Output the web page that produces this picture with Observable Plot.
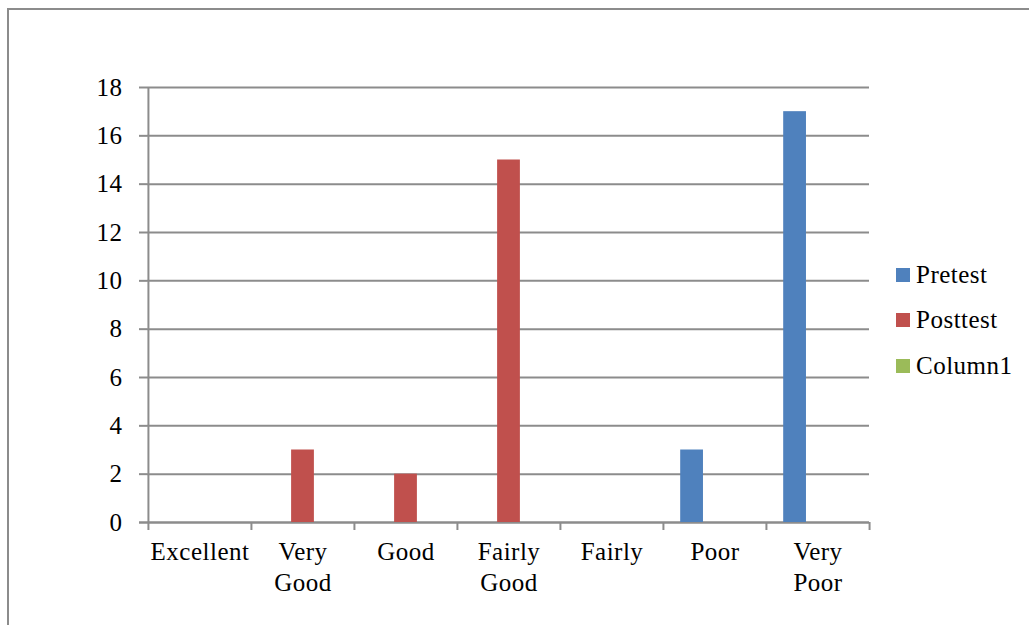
<!DOCTYPE html>
<html>
<head>
<meta charset="utf-8">
<script src="https://cdn.jsdelivr.net/npm/d3@7"></script>
<script src="https://cdn.jsdelivr.net/npm/@observablehq/plot@0.6"></script>
<style>
  html, body { margin: 0; padding: 0; background: #fff; }
  #wrap { position: relative; width: 1029px; height: 625px; overflow: hidden; font-family: "Liberation Serif", "Times New Roman", serif; }
  #border { position: absolute; left: 7px; top: 8px; width: 1100px; height: 700px; border-top: 2px solid #8c8c8c; border-left: 2px solid #8c8c8c; }
  #chart { position: absolute; left: 0; top: 0; }
  #legend { position: absolute; left: 896px; top: 252px; font-size: 25px; letter-spacing: 0.5px; color: #000; }
  .item { display: flex; align-items: center; height: 45.5px; }
  .sw { width: 14px; height: 14px; margin-right: 6px; }
</style>
</head>
<body>
<div id="wrap">
  <div id="border"></div>
  <div id="chart"></div>
  <div id="legend"></div>
</div>
<script>
const categories = ["Excellent", "Very Good", "Good", "Fairly Good", "Fairly", "Poor", "Very Poor"];
const categoryLabels = ["Excellent", "Very\nGood", "Good", "Fairly\nGood", "Fairly", "Poor", "Very\nPoor"];
const seriesNames = ["Pretest", "Posttest", "Column1"];
const seriesColors = ["#4F81BD", "#C0504D", "#9BBB59"];
const pretest = [0, 0, 0, 0, 0, 3, 17];
const posttest = [0, 3, 2, 15, 0, 0, 0];
const column1 = [0, 0, 0, 0, 0, 0, 0];
const yTicks = [0, 2, 4, 6, 8, 10, 12, 14, 16, 18];

const seriesValues = [pretest, posttest, column1];
const data = seriesNames.flatMap((s, j) =>
  categories.map((c, i) => ({category: c, series: s, value: seriesValues[j][i]}))
);

const W = 1029, H = 625;
const mL = 147, mR = 160, mT = 87, mB = 103;
const step = (W - mL - mR) / categories.length;
const bw = step / 4.5;           // Excel gap width 150%
const inset = (step - bw) / 2;
const font = "Liberation Serif";
const fs = 25;
const gridColor = "#8c8c8c";

const barMarks = seriesNames.map((s, j) =>
  Plot.barY(data.filter(d => d.series === s), {
    x: "category", y: "value", fill: seriesColors[j],
    insetLeft: inset, insetRight: inset, dx: (j - 1) * bw
  })
);

const plot = Plot.plot({
  width: W, height: H,
  marginLeft: mL, marginRight: mR, marginTop: mT, marginBottom: mB,
  style: {fontFamily: font, background: "transparent", letterSpacing: "0.5px"},
  x: {type: "band", domain: categories, padding: 0},
  y: {domain: [0, 18]},
  marks: [
    Plot.gridY(yTicks, {stroke: gridColor, strokeOpacity: 1, strokeWidth: 2}),
    Plot.axisY({ticks: yTicks, tickSize: 8, tickPadding: 17, stroke: gridColor, strokeWidth: 2, fill: "#000", fontSize: fs, fontFamily: font, label: null}),
    Plot.ruleX([categories[0]], {stroke: gridColor, strokeWidth: 2, dx: -step / 2}),
    Plot.axisX({ticks: categories, tickSize: 8, tickFormat: () => "", stroke: gridColor, strokeWidth: 2, dx: -step / 2, label: null}),
    Plot.axisX({ticks: [categories[categories.length - 1]], tickSize: 8, tickFormat: () => "", stroke: gridColor, strokeWidth: 2, dx: step / 2, label: null}),
    Plot.ruleY([0], {stroke: gridColor, strokeWidth: 2, insetLeft: -8}),
    ...barMarks,
    Plot.text(categories, {x: d => d, text: (d, i) => categoryLabels[i], frameAnchor: "bottom", lineAnchor: "top", dy: 16, lineHeight: 1.22, fontSize: fs, fontFamily: font, fill: "#000"})
  ]
});
document.getElementById("chart").appendChild(plot);

const legend = document.getElementById("legend");
seriesNames.forEach((s, j) => {
  const item = document.createElement("div");
  item.className = "item";
  const sw = document.createElement("div");
  sw.className = "sw";
  sw.style.background = seriesColors[j];
  const t = document.createElement("span");
  t.textContent = s;
  item.appendChild(sw); item.appendChild(t);
  legend.appendChild(item);
});
</script>
</body>
</html>
